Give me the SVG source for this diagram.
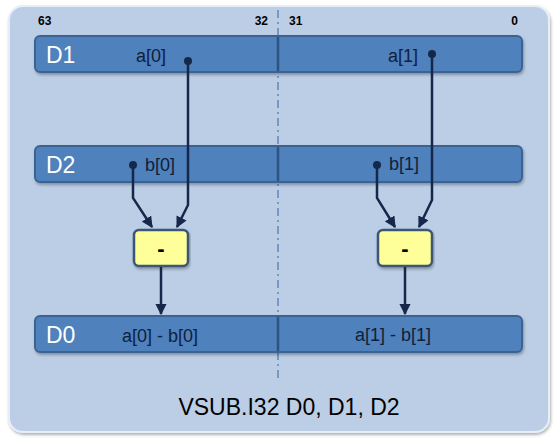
<svg xmlns="http://www.w3.org/2000/svg" width="560" height="444" viewBox="0 0 560 444">
<defs>
<style>
.bar{fill:#4f81bd;stroke:#3b6293;stroke-width:2}
.sep{stroke:#2f527f;stroke-width:2.5}
.reg{font-family:"Liberation Sans",Arial,sans-serif;font-size:23px;fill:#ffffff}
.lbl{font-family:"Liberation Sans",Arial,sans-serif;font-size:18px;fill:#10203a}
.bit{font-family:"Liberation Sans",Arial,sans-serif;font-size:12px;font-weight:bold;fill:#000}
.op{fill:#ffff99;stroke:#3b5677;stroke-width:2.5}
.opt{font-family:"Liberation Sans",Arial,sans-serif;font-size:22px;font-weight:bold;fill:#000}
.wire{fill:none;stroke:#15284a;stroke-width:2.5}
.dot{fill:#15284a}
</style>
<marker id="ah" viewBox="0 0 10 10" refX="9" refY="5" markerWidth="4.5" markerHeight="4.5" orient="auto" markerUnits="strokeWidth">
<path d="M0,0 L10,5 L0,10 z" fill="#15284a"/>
</marker>
<filter id="sh" x="-5%" y="-20%" width="110%" height="150%">
<feDropShadow dx="1" dy="2" stdDeviation="1.5" flood-color="#000" flood-opacity="0.3"/>
</filter>
</defs>
<rect width="560" height="444" fill="#ffffff"/>
<g id="panel">
<rect x="9" y="6" width="540" height="426" rx="14" fill="#bccee5" stroke="#e6eef8" stroke-width="2" filter="url(#sh)"/>
</g>
<g id="divider">
<line x1="278" y1="10" x2="278" y2="380" stroke="#5f86bf" stroke-width="1.5" stroke-dasharray="8,4,2,4"/>
</g>
<g id="bits">
<text class="bit" x="38" y="25">63</text>
<text class="bit" x="268" y="25" text-anchor="end">32</text>
<text class="bit" x="289" y="25">31</text>
<text class="bit" x="518" y="25" text-anchor="end">0</text>
</g>
<g id="D1">
<rect class="bar" x="35" y="36" width="487" height="36" rx="5" filter="url(#sh)"/>
<line class="sep" x1="278" y1="37" x2="278" y2="71"/>
<text class="reg" x="46" y="63">D1</text>
<text class="lbl" x="136" y="62">a[0]</text>
<text class="lbl" x="388" y="62">a[1]</text>
</g>
<g id="D2">
<rect class="bar" x="35" y="146" width="487" height="36" rx="5" filter="url(#sh)"/>
<line class="sep" x1="278" y1="147" x2="278" y2="181"/>
<text class="reg" x="46" y="173">D2</text>
<text class="lbl" x="145" y="171">b[0]</text>
<text class="lbl" x="389" y="170">b[1]</text>
</g>
<g id="D0">
<rect class="bar" x="35" y="316" width="487" height="36" rx="5" filter="url(#sh)"/>
<line class="sep" x1="278" y1="317" x2="278" y2="351"/>
<text class="reg" x="46" y="343">D0</text>
<text class="lbl" x="122" y="342">a[0] - b[0]</text>
<text class="lbl" x="355" y="341">a[1] - b[1]</text>
</g>
<g id="sub0">
<rect class="op" x="134" y="230" width="54" height="36" rx="5" filter="url(#sh)"/>
<text class="opt" x="161" y="256" text-anchor="middle">-</text>
</g>
<g id="sub1">
<rect class="op" x="378" y="230" width="54" height="36" rx="5" filter="url(#sh)"/>
<text class="opt" x="405" y="256" text-anchor="middle">-</text>
</g>
<g id="connectors">
<circle class="dot" cx="188" cy="61" r="4"/>
<circle class="dot" cx="432" cy="54" r="4"/>
<circle class="dot" cx="133" cy="165" r="4"/>
<circle class="dot" cx="377" cy="165" r="4"/>
<path class="wire" d="M188,61 L188,205 L177,227" marker-end="url(#ah)"/>
<path class="wire" d="M133,165 L133,198 L152,227" marker-end="url(#ah)"/>
<path class="wire" d="M432,54 L432,200 L419,227" marker-end="url(#ah)"/>
<path class="wire" d="M377,165 L377,198 L395,227" marker-end="url(#ah)"/>
<path class="wire" d="M161,267 L161,314" marker-end="url(#ah)"/>
<path class="wire" d="M405,267 L405,314" marker-end="url(#ah)"/>
</g>
<g id="caption">
<text x="289" y="415" text-anchor="middle" font-family="'Liberation Sans',Arial,sans-serif" font-size="23" fill="#000">VSUB.I32 D0, D1, D2</text>
</g>
</svg>
